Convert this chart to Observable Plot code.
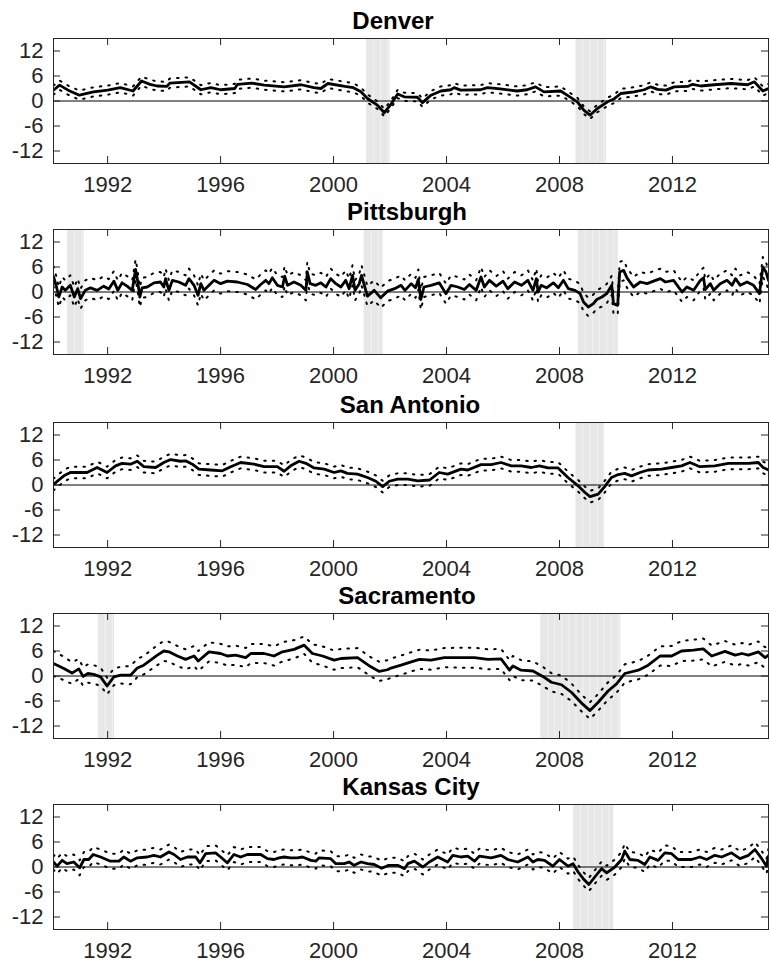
<!DOCTYPE html>
<html>
<head>
<meta charset="utf-8">
<script src="https://cdn.jsdelivr.net/npm/d3@7"></script>
<script src="https://cdn.jsdelivr.net/npm/@observablehq/plot@0.6"></script>
<style>
  body { margin: 0; background: #fff; }
  #charts svg { display: block; }
  #charts g[aria-label*="axis"] text { font-size: 22px; }
</style>
</head>
<body>
<div id="charts"></div>
<script>
// Axis ticks and extents shared by every panel
const xTicks = [1992, 1996, 2000, 2004, 2008, 2012];
const yTicks = [-12, -6, 0, 6, 12];
const xDomain = [1990.083, 2015.4];
const yDomain = [-15, 15];

// Rows: [year, estimate, half-width of the dotted band]
const denver = [
  [1990.08,2.6,1.1],[1990.3,3.8,1.1],[1990.6,2.6,1.1],[1991.0,1.4,1.1],[1991.5,2.2,1.1],
  [1992.0,2.6,1.1],[1992.45,3.2,1.1],[1992.9,2.4,1.1],[1993.2,4.8,1.1],[1993.5,4.0,1.1],
  [1993.75,3.6,1.1],[1994.1,3.5,1.1],[1994.2,4.3,1.1],[1994.9,4.6,1.1],[1995.3,2.7,1.1],
  [1995.65,3.2,1.1],[1996.0,2.7,1.1],[1996.5,3.0,1.1],[1996.6,4.0,1.1],[1997.1,4.3,1.1],
  [1997.55,3.8,1.1],[1998.25,3.4,1.1],[1998.85,3.9,1.1],[1999.3,3.2,1.1],[1999.55,3.0,1.1],
  [1999.8,4.2,1.1],[2000.4,3.5,1.1],[2000.7,3.2,1.1],[2000.97,2.2,1.0],[2001.2,0.6,1.0],
  [2001.55,-1.0,0.9],[2001.8,-2.8,0.9],[2002.03,-0.8,0.9],[2002.27,1.7,1.0],[2002.5,1.0,1.0],
  [2002.97,0.9,1.0],[2003.15,-0.4,1.0],[2003.45,1.4,1.0],[2003.8,2.4,1.1],[2004.15,2.7,1.1],
  [2004.27,3.2,1.1],[2004.5,2.6,1.1],[2005.2,2.7,1.1],[2005.45,3.2,1.1],[2005.9,2.9,1.1],
  [2006.5,2.4,1.1],[2006.85,2.7,1.1],[2007.15,3.4,1.1],[2007.45,2.2,1.1],[2008.04,2.4,1.1],
  [2008.27,1.4,1.0],[2008.63,-0.2,1.0],[2008.86,-2.2,0.9],[2009.08,-3.4,0.9],[2009.34,-1.8,0.9],
  [2009.7,-0.2,1.0],[2009.93,0.5,1.0],[2010.17,1.8,1.1],[2010.64,2.2,1.1],[2011.0,2.7,1.1],
  [2011.23,3.4,1.1],[2011.47,2.8,1.1],[2011.77,2.6,1.1],[2012.06,3.4,1.1],[2012.54,3.5,1.1],
  [2012.71,4.0,1.1],[2013.0,3.6,1.1],[2013.48,3.9,1.1],[2014.07,4.2,1.1],[2014.66,3.9,1.1],
  [2014.9,4.6,1.1],[2015.2,2.4,1.1],[2015.4,3.0,1.1]
];
const denverRecessions = [[2001.167, 2002.0], [2008.583, 2009.667]];

const pittsburgh = [
  [1990.08,3.8,2.4],[1990.19,1.2,2.4],[1990.27,-1.2,2.4],[1990.39,1.2,2.4],[1990.5,0.4,2.4],
  [1990.68,1.6,2.4],[1990.82,-1.2,2.4],[1990.94,0.8,2.4],[1991.04,-1.6,2.4],[1991.21,0.4,2.4],
  [1991.39,1.0,2.4],[1991.63,0.4,2.4],[1991.86,1.4,2.4],[1992.04,0.7,2.4],[1992.22,2.6,2.4],
  [1992.36,0.4,2.4],[1992.51,2.2,2.4],[1992.69,1.4,2.4],[1992.87,0.4,2.4],[1992.99,5.4,2.4],
  [1993.05,3.2,2.4],[1993.14,-1.2,2.4],[1993.22,1.0,2.4],[1993.4,1.2,2.4],[1993.64,2.2,2.4],
  [1993.87,2.4,2.4],[1993.99,1.2,2.4],[1994.05,3.2,2.4],[1994.17,0.4,2.4],[1994.29,2.8,2.4],
  [1994.52,2.4,2.4],[1994.76,1.6,2.4],[1994.88,3.2,2.4],[1995.06,1.6,2.4],[1995.2,-0.8,2.4],
  [1995.3,2.0,2.4],[1995.41,0.4,2.4],[1995.59,1.6,2.4],[1995.77,2.8,2.4],[1996.0,2.0,2.4],
  [1996.24,2.6,2.4],[1996.59,2.4,2.4],[1996.95,1.8,2.4],[1997.24,0.6,2.4],[1997.42,1.8,2.4],
  [1997.6,2.8,2.4],[1997.71,2.0,2.4],[1997.83,3.4,2.4],[1998.01,1.6,2.4],[1998.19,1.2,2.4],
  [1998.27,3.8,2.4],[1998.37,1.6,2.4],[1998.6,2.4,2.4],[1998.84,1.6,2.4],[1999.02,0.4,2.4],
  [1999.07,4.8,2.4],[1999.17,2.0,2.4],[1999.37,1.6,2.4],[1999.55,2.2,2.4],[1999.73,1.2,2.4],
  [1999.9,3.2,2.4],[2000.08,2.0,2.4],[2000.26,1.2,2.4],[2000.43,2.8,2.4],[2000.55,0.8,2.4],
  [2000.67,4.0,2.4],[2000.76,0.4,2.4],[2000.91,2.0,2.4],[2000.99,4.0,2.4],[2001.14,0.4,2.4],
  [2001.2,-1.0,2.4],[2001.44,0.4,2.4],[2001.67,-1.4,2.4],[2001.91,0.2,2.4],[2002.16,0.8,2.4],
  [2002.39,1.6,2.4],[2002.53,0.4,2.4],[2002.75,2.0,2.4],[2002.9,1.0,2.4],[2003.0,3.0,2.4],
  [2003.09,-1.8,2.4],[2003.2,1.2,2.4],[2003.45,1.6,2.4],[2003.74,2.2,2.4],[2003.98,-0.4,2.4],
  [2004.16,1.6,2.4],[2004.4,1.2,2.4],[2004.63,0.6,2.4],[2004.81,1.8,2.4],[2005.05,0.4,2.4],
  [2005.22,3.6,2.4],[2005.34,1.2,2.4],[2005.52,2.8,2.4],[2005.76,1.4,2.4],[2006.0,2.6,2.4],
  [2006.17,0.8,2.4],[2006.41,2.4,2.4],[2006.65,1.6,2.4],[2006.88,2.8,2.4],[2007.06,0.4,2.4],
  [2007.18,3.2,2.4],[2007.24,0.0,2.4],[2007.35,1.6,2.4],[2007.54,1.0,2.4],[2007.78,2.2,2.4],
  [2007.96,1.0,2.4],[2008.14,2.8,2.4],[2008.31,0.8,2.4],[2008.55,0.4,2.3],[2008.73,-0.4,2.3],
  [2008.85,-2.4,2.2],[2009.02,-3.6,2.2],[2009.2,-2.8,2.2],[2009.32,-1.8,2.2],[2009.5,-1.2,2.3],
  [2009.67,-0.4,2.3],[2009.85,1.6,2.3],[2009.91,-2.8,2.3],[2010.06,-3.2,2.3],[2010.13,4.8,2.4],
  [2010.27,5.2,2.4],[2010.39,3.4,2.4],[2010.62,1.2,2.4],[2010.86,2.4,2.4],[2011.1,2.0,2.4],
  [2011.33,2.6,2.4],[2011.57,3.2,2.4],[2011.75,2.4,2.4],[2012.04,2.8,2.4],[2012.34,0.0,2.4],
  [2012.51,1.2,2.4],[2012.75,0.4,2.4],[2012.99,2.8,2.4],[2013.1,3.4,2.4],[2013.16,0.6,2.4],
  [2013.34,2.0,2.4],[2013.46,0.4,2.4],[2013.69,2.0,2.4],[2013.93,2.8,2.4],[2014.11,1.6,2.4],
  [2014.23,3.2,2.4],[2014.4,1.6,2.4],[2014.64,2.4,2.4],[2014.87,1.6,2.4],[2015.08,-0.4,2.4],
  [2015.2,6.0,2.4],[2015.31,4.8,2.4],[2015.4,2.8,2.4]
];
const pittsburghRecessions = [[1990.583, 1991.167], [2001.083, 2001.75], [2008.667, 2010.083]];

const sanAntonio = [
  [1990.08,0.1,1.4],[1990.27,1.2,1.4],[1990.45,2.2,1.4],[1990.68,3.0,1.4],[1991.27,3.0,1.4],
  [1991.63,4.2,1.4],[1991.75,3.8,1.4],[1991.98,3.0,1.4],[1992.28,4.6,1.4],[1992.51,5.2,1.4],
  [1992.81,5.0,1.4],[1993.05,5.7,1.4],[1993.28,4.4,1.4],[1993.7,4.2,1.4],[1993.99,5.4,1.4],
  [1994.23,6.1,1.4],[1994.58,5.7,1.4],[1994.76,5.8,1.4],[1995.0,5.0,1.4],[1995.23,3.8,1.4],
  [1995.65,3.6,1.4],[1996.06,3.4,1.4],[1996.36,4.4,1.4],[1996.71,5.4,1.4],[1997.18,5.0,1.4],
  [1997.54,4.4,1.4],[1998.01,4.4,1.4],[1998.25,3.3,1.4],[1998.48,4.6,1.4],[1998.78,5.7,1.4],
  [1999.02,5.2,1.4],[1999.31,4.1,1.4],[1999.67,3.8,1.4],[2000.02,3.0,1.4],[2000.26,3.4,1.4],
  [2000.49,2.8,1.4],[2000.85,2.6,1.4],[2001.2,1.8,1.4],[2001.5,0.9,1.4],[2001.74,-0.4,1.4],
  [2001.97,0.9,1.4],[2002.27,1.4,1.4],[2002.63,1.4,1.4],[2002.98,1.0,1.4],[2003.4,1.2,1.4],
  [2003.74,3.0,1.4],[2004.04,2.6,1.4],[2004.51,3.8,1.4],[2004.75,3.6,1.4],[2005.22,4.9,1.4],
  [2005.58,4.9,1.4],[2005.93,5.4,1.4],[2006.29,4.6,1.4],[2006.64,4.6,1.4],[2007.0,4.2,1.4],
  [2007.29,4.6,1.4],[2007.59,4.1,1.4],[2007.95,4.1,1.4],[2008.3,1.8,1.4],[2008.66,-0.2,1.4],
  [2008.9,-1.8,1.4],[2009.08,-2.8,1.4],[2009.37,-2.2,1.4],[2009.6,-0.4,1.4],[2009.84,1.8,1.4],
  [2010.08,2.5,1.4],[2010.31,2.8,1.4],[2010.55,2.2,1.4],[2010.85,3.0,1.4],[2011.14,3.6,1.4],
  [2011.61,3.8,1.4],[2011.97,4.2,1.4],[2012.32,4.6,1.4],[2012.62,5.4,1.4],[2012.97,4.4,1.4],
  [2013.5,4.6,1.4],[2013.98,5.2,1.4],[2014.69,5.2,1.4],[2015.04,5.4,1.4],[2015.21,4.2,1.4],
  [2015.4,3.6,1.4]
];
const sanAntonioRecessions = [[2008.583, 2009.583]];

const sacramento = [
  [1990.08,3.0,3.0],[1990.45,1.8,2.8],[1990.74,0.7,2.6],[1990.98,1.7,2.4],[1991.13,-0.1,2.2],
  [1991.3,0.6,2.2],[1991.51,0.4,2.2],[1991.75,-0.2,2.2],[1991.98,-2.4,2.0],[1992.22,-0.2,2.0],
  [1992.46,0.2,2.0],[1992.81,0.2,2.2],[1993.05,1.9,2.2],[1993.28,2.6,2.2],[1993.52,3.8,2.3],
  [1993.76,5.0,2.4],[1993.99,6.0,2.4],[1994.17,5.8,2.4],[1994.47,4.8,2.4],[1994.76,4.0,2.4],
  [1995.06,4.8,2.4],[1995.21,3.6,2.4],[1995.59,5.8,2.3],[1996.0,5.4,2.3],[1996.24,4.8,2.3],
  [1996.53,5.0,2.3],[1996.89,4.4,2.3],[1997.07,5.4,2.3],[1997.54,5.4,2.3],[1997.89,4.8,2.3],
  [1998.19,5.8,2.3],[1998.6,6.4,2.2],[1998.96,7.4,2.1],[1999.25,5.4,2.2],[1999.61,4.8,2.3],
  [2000.02,3.8,2.3],[2000.26,4.2,2.3],[2000.85,4.4,2.3],[2001.32,2.2,2.3],[2001.62,1.1,2.3],
  [2001.91,1.5,2.3],[2002.03,1.9,2.3],[2002.39,2.6,2.3],[2002.75,3.4,2.3],[2003.04,4.0,2.3],
  [2003.45,3.8,2.3],[2003.92,4.4,2.3],[2004.51,4.4,2.4],[2004.99,4.4,2.4],[2005.46,4.0,2.4],
  [2005.93,4.1,2.4],[2006.23,1.4,2.4],[2006.35,2.4,2.4],[2006.64,1.4,2.4],[2007.06,1.2,2.3],
  [2007.41,-0.1,2.3],[2007.71,-1.5,2.2],[2008.07,-2.1,2.2],[2008.42,-3.9,2.1],[2008.78,-6.5,2.0],
  [2009.08,-8.3,2.0],[2009.37,-6.3,2.0],[2009.72,-3.6,2.1],[2010.02,-1.9,2.1],[2010.31,0.6,2.2],
  [2010.79,1.4,2.2],[2011.14,2.6,2.3],[2011.56,4.8,2.3],[2011.97,4.8,2.4],[2012.32,6.0,2.4],
  [2012.74,6.2,2.5],[2013.09,6.5,2.5],[2013.39,4.8,2.5],[2013.86,5.9,2.5],[2014.22,5.0,2.5],
  [2014.46,5.4,2.5],[2014.69,5.0,2.5],[2015.04,5.8,2.5],[2015.28,4.4,2.5],[2015.4,5.0,2.5]
];
const sacramentoRecessions = [[1991.667, 1992.25], [2007.333, 2010.167]];

const kansasCity = [
  [1990.08,1.2,1.8],[1990.21,0.2,1.8],[1990.39,1.6,1.8],[1990.56,0.8,1.8],[1990.8,1.2,1.8],
  [1991.01,-0.2,1.8],[1991.16,1.8,1.8],[1991.33,1.8,1.8],[1991.49,3.0,1.8],[1991.75,2.4,1.8],
  [1992.1,1.4,1.8],[1992.4,1.4,1.8],[1992.57,2.4,1.8],[1992.81,1.4,1.8],[1993.05,2.2,1.8],
  [1993.4,2.4,1.8],[1993.64,2.8,1.8],[1993.87,2.4,1.8],[1994.17,3.6,1.8],[1994.35,3.0,1.8],
  [1994.58,1.8,1.8],[1994.82,2.4,1.8],[1995.12,2.4,1.8],[1995.27,1.0,1.8],[1995.47,3.2,1.8],
  [1995.82,3.4,1.8],[1996.0,2.4,1.8],[1996.24,1.0,1.8],[1996.47,3.0,1.8],[1996.71,2.4,1.8],
  [1996.95,3.0,1.8],[1997.42,3.0,1.8],[1997.66,2.0,1.8],[1997.89,1.8,1.8],[1998.07,2.2,1.8],
  [1998.25,2.4,1.8],[1998.48,2.2,1.8],[1998.72,2.2,1.8],[1998.9,2.4,1.8],[1999.2,1.6,1.8],
  [1999.37,1.4,1.8],[1999.49,2.2,1.8],[1999.9,2.0,1.8],[2000.08,0.8,1.8],[2000.38,0.8,1.8],
  [2000.55,1.2,1.8],[2000.73,0.4,1.8],[2000.97,1.2,1.8],[2001.2,0.8,1.8],[2001.44,0.6,1.8],
  [2001.7,-0.3,1.8],[2001.95,0.4,1.8],[2002.27,0.4,1.8],[2002.51,-0.4,1.8],[2002.63,0.8,1.8],
  [2002.86,1.4,1.8],[2003.16,0.0,1.8],[2003.39,1.2,1.8],[2003.69,2.4,1.8],[2004.04,1.2,1.8],
  [2004.22,2.8,1.8],[2004.51,2.4,1.8],[2004.75,2.6,1.8],[2004.99,1.4,1.8],[2005.16,2.6,1.8],
  [2005.58,2.2,1.8],[2005.93,2.8,1.8],[2006.17,1.8,1.8],[2006.52,1.2,1.8],[2006.88,2.4,1.8],
  [2007.06,1.2,1.8],[2007.23,1.8,1.8],[2007.47,1.6,1.8],[2007.76,0.2,1.8],[2008.0,1.8,1.8],
  [2008.3,0.2,1.8],[2008.48,0.8,1.7],[2008.66,-1.2,1.7],[2008.84,-2.8,1.6],[2009.04,-4.2,1.6],
  [2009.25,-2.4,1.6],[2009.49,-0.4,1.7],[2009.67,-1.4,1.7],[2009.96,0.0,1.8],[2010.2,1.8,1.8],
  [2010.31,3.8,1.8],[2010.49,1.8,1.8],[2010.78,1.6,1.8],[2011.02,0.6,1.8],[2011.2,2.4,1.8],
  [2011.49,1.6,1.8],[2011.73,3.4,1.8],[2011.97,3.2,1.8],[2012.2,1.8,1.8],[2012.68,1.8,1.8],
  [2012.97,2.4,1.8],[2013.21,1.8,1.8],[2013.5,2.8,1.8],[2013.74,2.4,1.8],[2014.09,3.4,1.8],
  [2014.39,2.0,1.8],[2014.69,2.8,1.8],[2014.92,4.2,1.8],[2015.16,2.0,1.8],[2015.33,0.2,1.8],
  [2015.4,2.6,1.8]
];
const kansasCityRecessions = [[2008.5, 2009.917]];

// Panel layout: SVG height and horizontal title nudge for each city
const panels = [
  {name: "Denver",      series: denver,      recessions: denverRecessions,      height: 191, titleDx: -18},
  {name: "Pittsburgh",  series: pittsburgh,  recessions: pittsburghRecessions,  height: 193, titleDx: -4},
  {name: "San Antonio", series: sanAntonio,  recessions: sanAntonioRecessions,  height: 191, titleDx: -1},
  {name: "Sacramento",  series: sacramento,  recessions: sacramentoRecessions,  height: 191, titleDx: -4},
  {name: "Kansas City", series: kansasCity,  recessions: kansasCityRecessions,  height: 196, titleDx: 0}
];

const frameTop = 38, frameHeight = 125, frameLeft = 53, frameRight = 2, width = 770;
const frameWidth = width - frameLeft - frameRight;
const tickLen = 7;
const axisColor = "#262626";

const container = document.getElementById("charts");

for (const p of panels) {
  const rows = p.series.map(([t, mid, half]) => ({t, mid, lo: mid - half, hi: mid + half}));
  const shades = p.recessions.map(([x1, x2]) => ({x1, x2}));
  // faint seams inside the shaded recession bands, one per quarter
  const seams = [];
  for (const [a, b] of p.recessions) {
    for (let s = a + 0.25; s < b - 0.05; s += 0.25) seams.push(s);
  }

  const chart = Plot.plot({
    width,
    height: p.height,
    marginLeft: frameLeft,
    marginRight: frameRight,
    marginTop: frameTop,
    marginBottom: p.height - frameTop - frameHeight,
    x: {domain: xDomain, ticks: xTicks, tickSize: 0, tickPadding: 13, tickFormat: d => String(d), label: null},
    y: {domain: yDomain, ticks: yTicks, tickSize: 0, tickPadding: 10, tickFormat: d => String(d), label: null},
    style: {
      fontFamily: "Helvetica, 'Liberation Sans', Arial, sans-serif",
      fontSize: "22px",
      color: axisColor,
      background: "white",
      overflow: "visible"
    },
    marks: [
      Plot.rect(shades, {x1: "x1", x2: "x2", fill: "#e7e7e7"}),
      Plot.ruleX(seams, {x: d => d, stroke: "#efefef", strokeWidth: 1.5}),
      Plot.ruleY([0], {stroke: "black", strokeWidth: 1}),
      Plot.line(rows, {x: "t", y: "hi", stroke: "black", strokeWidth: 2, strokeDasharray: "1.5,7", clip: true}),
      Plot.line(rows, {x: "t", y: "lo", stroke: "black", strokeWidth: 2, strokeDasharray: "1.5,7", clip: true}),
      Plot.line(rows, {x: "t", y: "mid", stroke: "black", strokeWidth: 2.8, strokeLinejoin: "round", clip: true}),
      Plot.frame({stroke: axisColor, strokeWidth: 1}),
      Plot.ruleX(xTicks, {x: d => d, insetBottom: frameHeight - tickLen, stroke: axisColor}),
      Plot.ruleX(xTicks, {x: d => d, insetTop: frameHeight - tickLen, stroke: axisColor}),
      Plot.ruleY(yTicks, {y: d => d, insetRight: frameWidth - tickLen, stroke: axisColor}),
      Plot.ruleY(yTicks, {y: d => d, insetLeft: frameWidth - tickLen, stroke: axisColor}),
      Plot.text([p.name], {
        frameAnchor: "top",
        text: d => d,
        dy: -9.5,
        dx: p.titleDx,
        lineAnchor: "bottom",
        fontSize: 24,
        fontWeight: "bold",
        fill: "black"
      })
    ]
  });
  container.appendChild(chart);
}
</script>
</body>
</html>
